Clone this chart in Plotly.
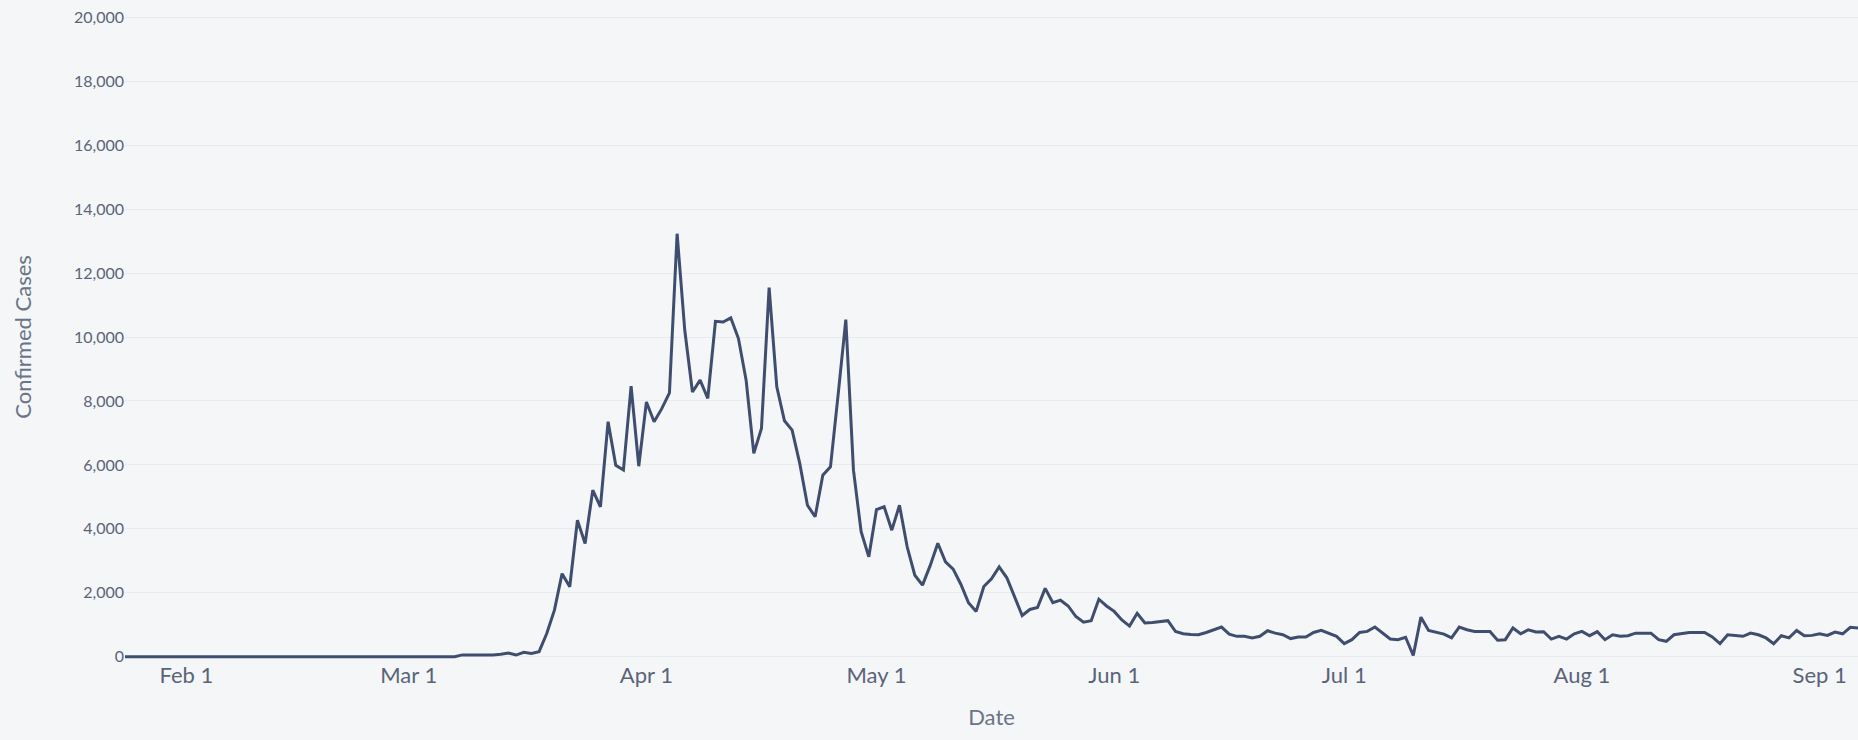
import pandas as pd
import plotly.graph_objects as go

# Daily confirmed cases, one list per month (2020)
cases_jan = [0, 0, 0, 0, 0, 0, 0, 0]  # Jan 24-31
cases_feb = [0] * 29
cases_mar = [0, 0, 0, 5, 10, 15, 5, 60, 55, 50, 50, 55, 80, 120, 55, 140, 105, 160,
             730, 1460, 2600, 2190, 4270, 3540, 5210, 4690, 7350, 5990, 5840, 8460, 5960]
cases_apr = [7970, 7350, 7760, 8250, 13230, 10210, 8280, 8650, 8080, 10490, 10470, 10600,
             9950, 8650, 6360, 7140, 11545, 8440, 7380, 7090, 6040, 4740, 4380, 5680,
             5940, 8200, 10545, 5835, 3910, 3125]
cases_may = [4600, 4690, 3960, 4740, 3440, 2550, 2240, 2850, 3550, 2970, 2740, 2270,
             1690, 1420, 2200, 2440, 2810, 2470, 1900, 1290, 1480, 1540, 2140, 1690,
             1770, 1590, 1260, 1080, 1130, 1800, 1590]
cases_jun = [1420, 1150, 960, 1360, 1060, 1070, 1100, 1130, 790, 720, 700, 690, 760,
             845, 930, 710, 640, 640, 590, 640, 815, 740, 690, 570, 620, 620, 760, 825,
             740, 640]
cases_jul = [410, 535, 760, 795, 930, 740, 555, 535, 610, 40, 1240, 825, 760, 710, 590,
             930, 845, 795, 795, 790, 520, 535, 900, 720, 845, 775, 785, 555, 640, 555, 720]
cases_aug = [795, 660, 785, 535, 690, 640, 660, 740, 740, 740, 535, 485, 690, 720, 760,
             760, 760, 620, 410, 690, 660, 640, 740, 690, 590, 410, 660, 590, 825, 660, 670]
cases_sep = [720, 670, 775, 720, 920, 900]

start_date = "2020-01-24"
y_tick_vals = [0, 2000, 4000, 6000, 8000, 10000, 12000, 14000, 16000, 18000, 20000]

cases = (cases_jan + cases_feb + cases_mar + cases_apr + cases_may + cases_jun
         + cases_jul + cases_aug + cases_sep)
dates = pd.date_range(start_date, periods=len(cases), freq="D")

fig = go.Figure()
fig.add_trace(go.Scatter(
    x=dates, y=cases, mode="lines",
    line=dict(color="#3f4e6e", width=3),
    showlegend=False,
))

bg = "#f5f6f8"
grid = "#e8eaee"
txt = "#5a6478"

fig.update_layout(
    width=1858, height=740,
    paper_bgcolor=bg, plot_bgcolor=bg,
    margin=dict(l=125, r=0, t=14, b=80),
    font=dict(family="Lato", color=txt),
    xaxis=dict(
        title=dict(text="Date", font=dict(size=22, color="#6b7487"), standoff=22),
        tickformat="%b %-d", dtick="M1", tick0="2020-02-01",
        tickfont=dict(size=22, color=txt),
        showgrid=False, zeroline=False, showline=False,
    ),
    yaxis=dict(
        title=dict(text="Confirmed Cases", font=dict(size=22, color="#6b7487"), standoff=36),
        range=[-100, 20100], tickvals=y_tick_vals, tickformat=",",
        tickfont=dict(size=16, color=txt),
        showgrid=True, gridcolor=grid, gridwidth=1,
        zeroline=False, showline=False,
    ),
)

fig.write_html("out.html", config={"displayModeBar": False},
               post_script="document.body.style.margin='0';")
